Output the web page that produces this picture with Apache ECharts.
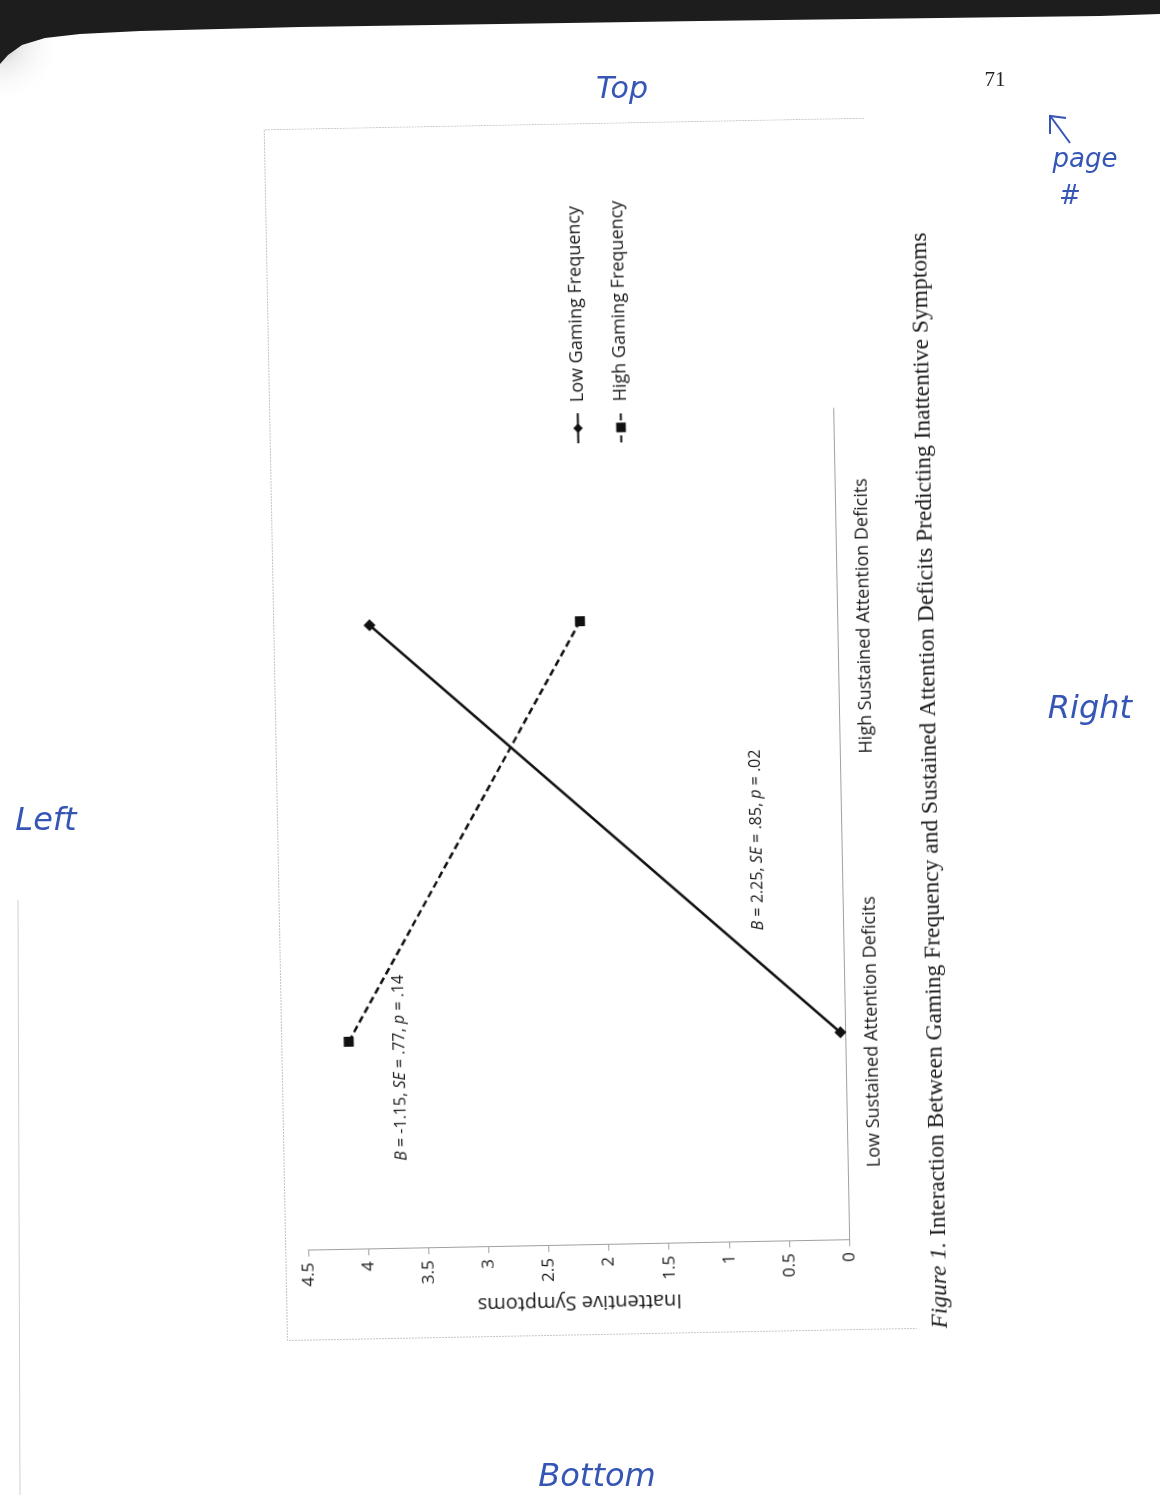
<!DOCTYPE html>
<html>
<head>
<meta charset="utf-8">
<title>Interaction Between Gaming Frequency and Sustained Attention Deficits</title>
<script src="https://cdn.jsdelivr.net/npm/echarts/dist/echarts.min.js"></script>
<style>
  html, body { margin: 0; padding: 0; background: #ffffff; }
  #page { position: absolute; left: 0; top: 0; width: 1160px; height: 1501px; }
  /* the figure is printed sideways on the page */
  #plot {
    position: absolute; left: 287px; top: 1341px;
    width: 1212px; height: 700px;
    transform-origin: 0 0; transform: rotate(-91.1deg);
  }
</style>
</head>
<body>
<div id="page"></div>
<div id="plot"></div>
<script>
// ---- data ----
const categories = ['Low Sustained Attention Deficits', 'High Sustained Attention Deficits'];
const seriesNames = ['Low Gaming Frequency', 'High Gaming Frequency'];
const lowGaming = [0.04, 3.89];
const highGaming = [4.13, 2.14];
const valueMin = 0;
const valueMax = 4.5;
const valueStep = 0.5;
const axisTitle = 'Inattentive Symptoms';
const slopeHigh = '{i|B} = -1.15, {i|SE} = .77, {i|p} = .14';
const slopeLow = '{i|B} = 2.25, {i|SE} = .85, {i|p} = .02';
const caption = '{i|Figure 1.} Interaction Between Gaming Frequency and Sustained Attention Deficits Predicting Inattentive Symptoms';
const pageNumber = '71';

const SANS = '"Open Sans", "Noto Sans", sans-serif';
const SERIF = '"Liberation Serif", "DejaVu Serif", serif';
const INK = '#1a1a1a';
const PEN = '#3556b5';

// ---- the sideways chart ----
const plot = echarts.init(document.getElementById('plot'), null, { renderer: 'canvas', width: 1212, height: 700 });
plot.setOption({
  animation: false,
  grid: { left: 90, top: 23, width: 832, height: 541 },
  xAxis: {
    type: 'category',
    data: categories,
    axisLine: { lineStyle: { color: '#a0a0a0', width: 1 } },
    axisTick: { length: 7, lineStyle: { color: '#a0a0a0' } },
    axisLabel: { margin: 18, fontFamily: SANS, fontSize: 18, color: INK }
  },
  yAxis: {
    type: 'value',
    min: valueMin, max: valueMax, interval: valueStep,
    name: axisTitle,
    nameLocation: 'middle',
    nameGap: 44,
    nameTextStyle: { fontFamily: SANS, fontSize: 20, color: INK },
    axisLine: { show: true, lineStyle: { color: '#a0a0a0', width: 1 } },
    axisTick: { show: true, length: 6, lineStyle: { color: '#a0a0a0' } },
    axisLabel: { margin: 12, fontFamily: SANS, fontSize: 17, color: INK },
    splitLine: { show: false }
  },
  legend: {
    orient: 'vertical',
    left: 886, top: 293,
    itemWidth: 30, itemHeight: 12, itemGap: 22,
    data: seriesNames,
    textStyle: { fontFamily: SANS, fontSize: 18, color: INK, lineHeight: 21, padding: [0, 0, 0, 6] }
  },
  series: [
    {
      name: seriesNames[0], type: 'line', data: lowGaming,
      symbol: 'diamond', symbolSize: 12,
      itemStyle: { color: '#111' },
      lineStyle: { color: '#111', width: 2.5 }
    },
    {
      name: seriesNames[1], type: 'line', data: highGaming,
      symbol: 'rect', symbolSize: 10,
      itemStyle: { color: '#111' },
      lineStyle: { color: '#111', width: 2.5, type: [7, 4] }
    }
  ],
  graphic: [
    { // chart frame
      type: 'polyline', silent: true,
      shape: { points: [[1211.5, 600], [1211.5, 0.5], [0.5, 0.5], [0.5, 630]] },
      style: { stroke: '#c4c4c4', lineWidth: 1, fill: null, lineDash: [2, 1] }
    },
    {
      type: 'text', x: 271, y: 118,
      style: {
        text: slopeHigh, fontFamily: SANS, fontSize: 16, fill: INK,
        align: 'center', verticalAlign: 'middle',
        rich: { i: { fontStyle: 'italic', fontFamily: SANS, fontSize: 16, fill: INK } }
      }
    },
    {
      type: 'text', x: 492, y: 479,
      style: {
        text: slopeLow, fontFamily: SANS, fontSize: 16, fill: INK,
        align: 'center', verticalAlign: 'middle',
        rich: { i: { fontStyle: 'italic', fontFamily: SANS, fontSize: 16, fill: INK } }
      }
    },
    {
      type: 'text', x: 548, y: 654,
      style: {
        text: caption, fontFamily: SERIF, fontSize: 23.5, fill: INK,
        align: 'center', verticalAlign: 'middle',
        rich: { i: { fontStyle: 'italic', fontFamily: SERIF, fontSize: 23.5, fill: INK } }
      }
    }
  ]
});

// ---- the page around it ----
const page = echarts.init(document.getElementById('page'), null, { renderer: 'canvas', width: 1160, height: 1501 });
const penText = (x, y, text, size, rot) => ({
  type: 'text', x: x, y: y, rotation: rot || 0,
  style: { text: text, fontFamily: '"DejaVu Sans", sans-serif', fontStyle: 'italic', fontWeight: 300,
           fontSize: size, fill: PEN, align: 'center', verticalAlign: 'middle' }
});
page.setOption({
  animation: false,
  graphic: [
    { // soft shadow along the left page edge
      type: 'rect', silent: true,
      shape: { x: 0, y: 20, width: 70, height: 150 },
      style: { fill: new echarts.graphic.RadialGradient(0, 0.15, 0.9, [
        { offset: 0, color: 'rgba(110,110,110,0.55)' },
        { offset: 0.35, color: 'rgba(180,180,180,0.25)' },
        { offset: 1, color: 'rgba(255,255,255,0)' }]) }
    },
    { // scanner shadow at the top edge
      type: 'polygon', silent: true,
      shape: { points: [[0, 0], [1160, 0], [1160, 14], [1100, 16], [700, 21], [300, 27], [140, 31],
                        [80, 34], [45, 38], [22, 45], [8, 55], [0, 64]] },
      style: { fill: '#1d1d1d' }
    },
    {
      type: 'line', silent: true,
      shape: { x1: 18, y1: 900, x2: 20, y2: 1495 },
      style: { stroke: 'rgba(150,150,150,0.45)', lineWidth: 1 }
    },
    {
      type: 'text', x: 995, y: 80,
      style: { text: pageNumber, fontFamily: SERIF, fontSize: 21, fill: '#222', align: 'center', verticalAlign: 'middle' }
    },
    penText(622, 90, 'Top', 30),
    penText(46, 822, 'Left', 32),
    penText(1090, 710, 'Right', 32),
    penText(597, 1478, 'Bottom', 32),
    penText(1085, 160, 'page', 26),
    penText(1070, 197, '#', 26),
    { // arrow pointing at the page number
      type: 'polyline', silent: true,
      shape: { points: [[1070, 143], [1051, 117]] },
      style: { stroke: PEN, lineWidth: 2, fill: null }
    },
    {
      type: 'polyline', silent: true,
      shape: { points: [[1050, 134], [1050, 116], [1066, 118]] },
      style: { stroke: PEN, lineWidth: 2, fill: null }
    }
  ]
});
</script>
</body>
</html>
